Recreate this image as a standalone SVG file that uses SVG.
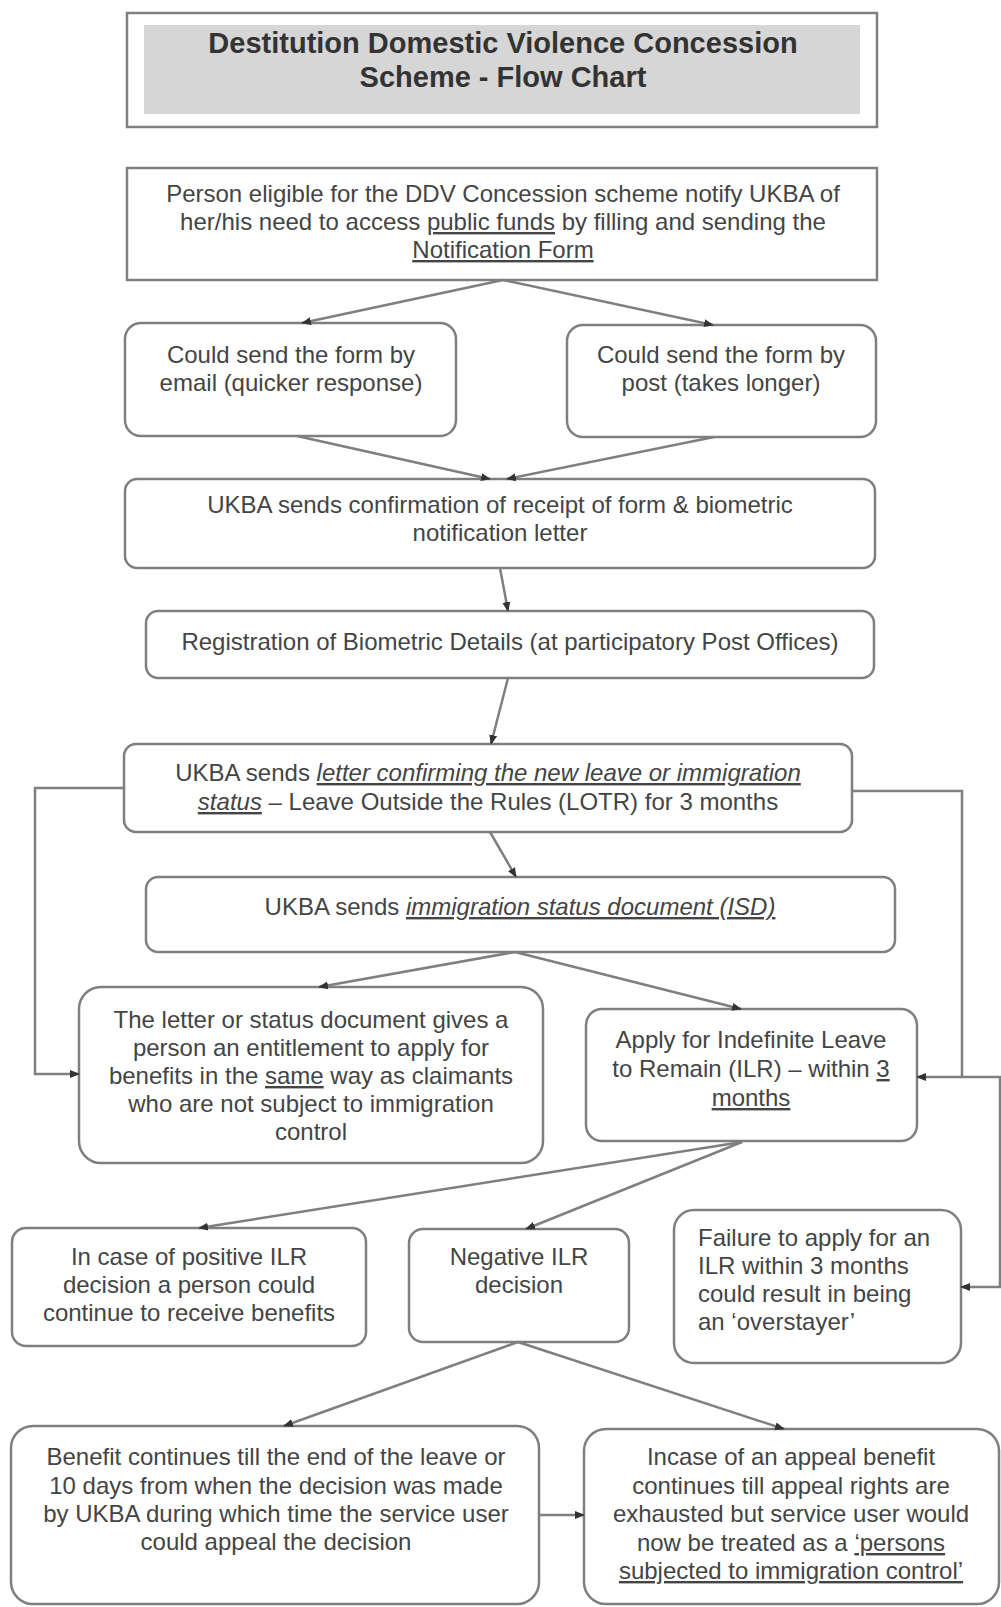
<svg xmlns="http://www.w3.org/2000/svg" width="1001" height="1607" viewBox="0 0 1001 1607">
<defs>
<marker id="ah" markerWidth="10" markerHeight="10" refX="9" refY="5" orient="auto" markerUnits="userSpaceOnUse">
<path d="M0,1 L10,5 L0,9 Z" fill="#333"/>
</marker>
<style>
.box{fill:#fff;stroke:#7f7f7f;stroke-width:2.5}
.t{font-family:"Liberation Sans",Arial,sans-serif;font-size:24px;fill:#444;text-anchor:middle}
.l{text-anchor:start}
.title{font-family:"Liberation Sans",Arial,sans-serif;font-size:29px;font-weight:bold;fill:#333;text-anchor:middle}
.u{text-decoration:underline}
.i{font-style:italic}
.c{fill:none;stroke:#7f7f7f;stroke-width:2.5;marker-end:url(#ah)}
.cn{fill:none;stroke:#7f7f7f;stroke-width:2.5}
</style>
</defs>
<rect width="1001" height="1607" fill="#fff"/>

<g id="title">
<rect class="box" x="127" y="13" width="750" height="114"/>
<rect x="144" y="25" width="716" height="89" fill="#d6d6d6"/>
<text class="title" x="503" y="53">Destitution Domestic Violence Concession</text>
<text class="title" x="503" y="87">Scheme - Flow Chart</text>
</g>

<g id="notify">
<rect class="box" x="127" y="168" width="750" height="112"/>
<text class="t" x="503" y="202">Person eligible for the DDV Concession scheme notify UKBA of</text>
<text class="t" x="503" y="230">her/his need to access <tspan class="u">public funds</tspan> by filling and sending the</text>
<text class="t" x="503" y="258"><tspan class="u">Notification Form</tspan></text>
</g>

<g id="email">
<rect class="box" x="125" y="323" width="331" height="113" rx="16"/>
<text class="t" x="291" y="363">Could send the form by</text>
<text class="t" x="291" y="391">email (quicker response)</text>
</g>

<g id="post">
<rect class="box" x="567" y="325" width="309" height="112" rx="16"/>
<text class="t" x="721" y="363">Could send the form by</text>
<text class="t" x="721" y="391">post (takes longer)</text>
</g>

<g id="confirm">
<rect class="box" x="125" y="479" width="750" height="89" rx="12"/>
<text class="t" x="500" y="513">UKBA sends confirmation of receipt of form &amp; biometric</text>
<text class="t" x="500" y="541">notification letter</text>
</g>

<g id="registration">
<rect class="box" x="146" y="611" width="728" height="67" rx="12"/>
<text class="t" x="510" y="650">Registration of Biometric Details (at participatory Post Offices)</text>
</g>

<g id="lotr">
<rect class="box" x="124" y="744" width="728" height="88" rx="12"/>
<text class="t" x="488" y="781">UKBA sends <tspan class="u i">letter confirming the new leave or immigration</tspan></text>
<text class="t" x="488" y="810"><tspan class="u i">status</tspan> – Leave Outside the Rules (LOTR) for 3 months</text>
</g>

<g id="isd">
<rect class="box" x="146" y="877" width="749" height="75" rx="12"/>
<text class="t" x="520" y="915">UKBA sends <tspan class="u i">immigration status document (ISD)</tspan></text>
</g>

<g id="entitlement">
<rect class="box" x="79" y="987" width="464" height="176" rx="22"/>
<text class="t" x="311" y="1028">The letter or status document gives a</text>
<text class="t" x="311" y="1056">person an entitlement to apply for</text>
<text class="t" x="311" y="1084">benefits in the <tspan class="u">same</tspan> way as claimants</text>
<text class="t" x="311" y="1112">who are not subject to immigration</text>
<text class="t" x="311" y="1140">control</text>
</g>

<g id="ilr">
<rect class="box" x="586" y="1009" width="331" height="132" rx="16"/>
<text class="t" x="751" y="1048">Apply for Indefinite Leave</text>
<text class="t" x="751" y="1077">to Remain (ILR) – within <tspan class="u">3</tspan></text>
<text class="t" x="751" y="1106"><tspan class="u">months</tspan></text>
</g>

<g id="positive">
<rect class="box" x="12" y="1228" width="354" height="118" rx="14"/>
<text class="t" x="189" y="1265">In case of positive ILR</text>
<text class="t" x="189" y="1293">decision a person could</text>
<text class="t" x="189" y="1321">continue to receive benefits</text>
</g>

<g id="negative">
<rect class="box" x="409" y="1229" width="220" height="113" rx="14"/>
<text class="t" x="519" y="1265">Negative ILR</text>
<text class="t" x="519" y="1293">decision</text>
</g>

<g id="failure">
<rect class="box" x="674" y="1210" width="287" height="153" rx="20"/>
<text class="t l" x="698" y="1246">Failure to apply for an</text>
<text class="t l" x="698" y="1274">ILR within 3 months</text>
<text class="t l" x="698" y="1302">could result in being</text>
<text class="t l" x="698" y="1330">an ‘overstayer’</text>
</g>

<g id="benefit-continues">
<rect class="box" x="11" y="1426" width="528" height="178" rx="22"/>
<text class="t" x="276" y="1465">Benefit continues till the end of the leave or</text>
<text class="t" x="276" y="1494">10 days from when the decision was made</text>
<text class="t" x="276" y="1522">by UKBA during which time the service user</text>
<text class="t" x="276" y="1550">could appeal the decision</text>
</g>

<g id="appeal">
<rect class="box" x="584" y="1429" width="415" height="175" rx="22"/>
<text class="t" x="791" y="1465">Incase of an appeal benefit</text>
<text class="t" x="791" y="1494">continues till appeal rights are</text>
<text class="t" x="791" y="1522">exhausted but service user would</text>
<text class="t" x="791" y="1551">now be treated as a <tspan class="u">‘persons</tspan></text>
<text class="t" x="791" y="1579"><tspan class="u">subjected to immigration control’</tspan></text>
</g>

<g id="connectors">
<path class="c" d="M503,280 L302,323"/>
<path class="c" d="M503,280 L713,325"/>
<path class="c" d="M297,436 L490,479"/>
<path class="c" d="M714,437 L507,479"/>
<path class="c" d="M500,568 L508,611"/>
<path class="c" d="M508,678 L491,744"/>
<path class="c" d="M490,832 L516,877"/>
<path class="c" d="M515,952 L319,987"/>
<path class="c" d="M515,952 L741,1009"/>
<path class="c" d="M124,788 L35,788 L35,1074 L79,1074"/>
<path class="cn" d="M852,791 L962,791 L962,1077"/>
<path class="c" d="M1001,1077 L917,1077"/>
<path class="c" d="M1000,1077 L1000,1287 L961,1287"/>
<path class="c" d="M742,1142 L199,1228"/>
<path class="c" d="M742,1142 L526,1229"/>
<path class="c" d="M518,1342 L284,1426"/>
<path class="c" d="M518,1342 L784,1429"/>
<path class="c" d="M539,1515 L584,1515"/>
</g>
</svg>
